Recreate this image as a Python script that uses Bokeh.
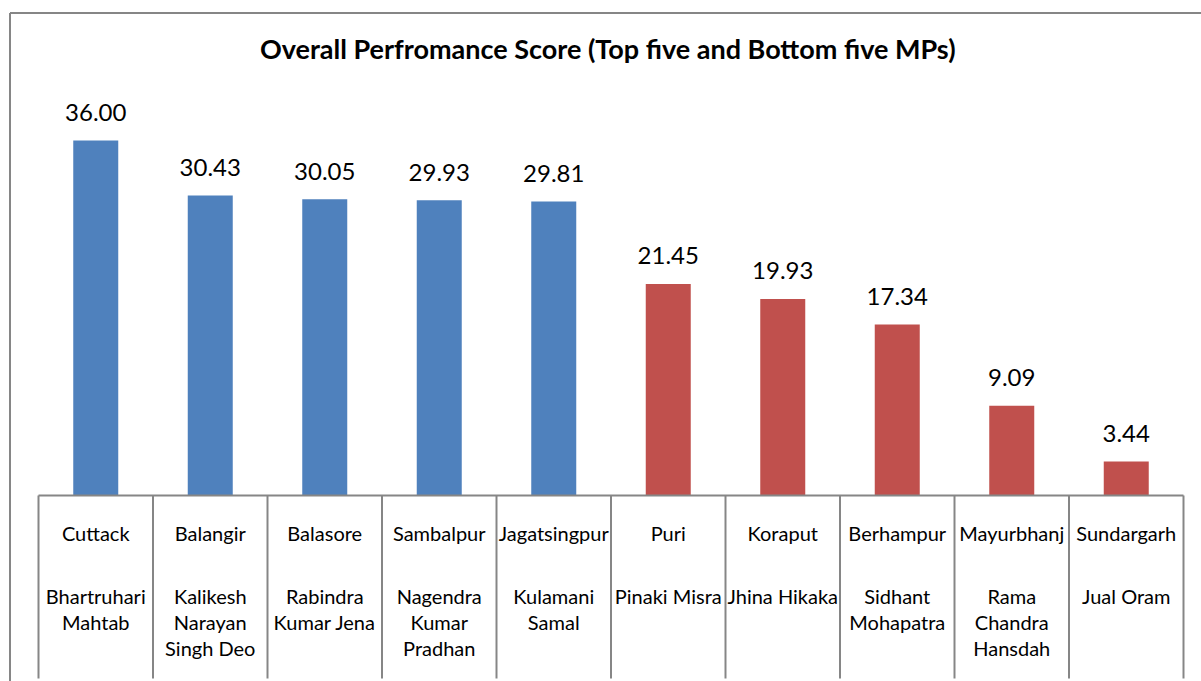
import numpy as np
from bokeh.plotting import figure
from bokeh.models import Range1d, ColumnDataSource, Label
from bokeh.core.properties import value
from bokeh.embed import file_html
from bokeh.resources import INLINE

# ---------------- data ----------------
regions = ["Cuttack", "Balangir", "Balasore", "Sambalpur", "Jagatsingpur",
           "Puri", "Koraput", "Berhampur", "Mayurbhanj", "Sundargarh"]
mps = ["Bhartruhari\nMahtab", "Kalikesh\nNarayan\nSingh Deo", "Rabindra\nKumar Jena",
       "Nagendra\nKumar\nPradhan", "Kulamani\nSamal", "Pinaki Misra", "Jhina Hikaka",
       "Sidhant\nMohapatra", "Rama\nChandra\nHansdah", "Jual Oram"]
scores = [36.00, 30.43, 30.05, 29.93, 29.81, 21.45, 19.93, 17.34, 9.09, 3.44]
groups = ["Top", "Top", "Top", "Top", "Top",
          "Bottom", "Bottom", "Bottom", "Bottom", "Bottom"]
group_colors = {"Top": "#4F81BD", "Bottom": "#C0504D"}
title_text = "Overall Perfromance  Score (Top five and Bottom five MPs)"

# ---------------- layout (pixels, image coordinates) ----------------
W, H = 1201, 681
ORIGIN = 0
PLOT_LEFT = 38          # image x where first category starts
CAT_W = 114.5           # px per category
AXIS_Y = 495            # image y of zero line
PX_UNIT = 9.861         # px per score unit
FONT = "Lato"
GRAY = "#868686"

def ux(X):
    return (X - PLOT_LEFT) / CAT_W

def vy(Y):
    return (AXIS_Y - Y) / PX_UNIT

n = len(regions)
xc = np.arange(n) + 0.5

p = figure(width=W, height=H, output_backend="svg", toolbar_location=None,
           x_range=Range1d(ux(ORIGIN), ux(ORIGIN + W)),
           y_range=Range1d(vy(ORIGIN + H), vy(ORIGIN)),
           min_border=0)
p.axis.visible = False
p.grid.visible = False
p.outline_line_color = None
p.background_fill_color = "white"
p.border_fill_color = "white"

src = ColumnDataSource(dict(
    x=xc, score=scores, region=regions, mp=mps,
    color=[group_colors[g] for g in groups],
    lbl=[f"{s:.2f}" for s in scores],
))

# outer chart border (left & top)
p.segment(x0=[ux(9.5), ux(9.5)], y0=[vy(12.5), vy(12.5)],
          x1=[ux(W + 5), ux(9.5)], y1=[vy(12.5), vy(H + 5)],
          line_color=GRAY, line_width=2)

# bars
p.vbar(x="x", top="score", bottom=0, width=45 / CAT_W, fill_color="color",
       line_color=None, source=src)

# value labels
p.text(x="x", y="score", text="lbl", source=src, text_align="center",
       text_baseline="alphabetic", y_offset=-28, text_font=value(FONT),
       text_font_size="24px", text_color="black")

# axis line and category separators
bounds = np.arange(n + 1)
p.segment(x0=[bounds[0]], y0=[0], x1=[bounds[-1]], y1=[0], line_color=GRAY, line_width=2)
p.segment(x0=bounds, y0=np.zeros(n + 1), x1=bounds, y1=np.full(n + 1, vy(678)),
          line_color=GRAY, line_width=2)

# category labels
p.text(x="x", y=0, text="region", source=src, text_align="center",
       text_baseline="middle", y_offset=37, text_font=value(FONT),
       text_font_size="20px", text_color="black")
p.text(x="x", y=0, text="mp", source=src, text_align="center",
       text_baseline="top", y_offset=88, text_font=value(FONT),
       text_font_size="20px", text_color="black", text_line_height=1.1)

# title
p.add_layout(Label(x=n / 2, y=vy(48), text=title_text, text_align="center",
                   text_baseline="middle", text_font=FONT, text_font_size="27px",
                   text_font_style="bold", text_color="black"))

open("out.html", "w").write(file_html(p, INLINE))
